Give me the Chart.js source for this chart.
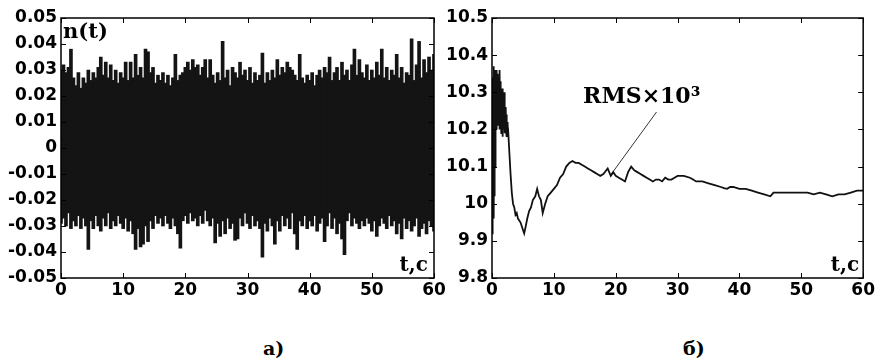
<!DOCTYPE html>
<html>
<head>
<meta charset="utf-8">
<script src="https://cdn.jsdelivr.net/npm/chart.js"></script>
<style>
html, body { margin: 0; padding: 0; background: #fff; }
#wrap { position: relative; width: 877px; height: 363px; overflow: hidden; }
canvas { position: absolute; top: 0; }
.cap { position: absolute; top: 337px; font: bold 19px "DejaVu Serif"; color: #000; }
</style>
</head>
<body>
<div id="wrap">
  <canvas id="noiseChart" width="460" height="300" style="left:0"></canvas>
  <canvas id="rmsChart" width="437" height="300" style="left:440px"></canvas>
  <div class="cap" style="left:263px">а)</div>
  <div class="cap" style="left:683px">б)</div>
</div>
<script>
// noise n(t): peak-to-peak envelope read every 0.4 s
var noiseStep = 0.4;
var noiseHigh = [
  0.030, 0.032, 0.029, 0.031, 0.038, 0.027, 0.024, 0.029, 0.023, 0.027,
  0.025, 0.030, 0.026, 0.029, 0.027, 0.031, 0.035, 0.028, 0.033, 0.027,
  0.032, 0.026, 0.030, 0.025, 0.029, 0.027, 0.033, 0.026, 0.033, 0.027,
  0.036, 0.028, 0.031, 0.027, 0.038, 0.037, 0.029, 0.031, 0.025, 0.028,
  0.026, 0.029, 0.025, 0.028, 0.024, 0.027, 0.036, 0.026, 0.028, 0.029,
  0.031, 0.033, 0.030, 0.034, 0.031, 0.032, 0.028, 0.031, 0.034, 0.027,
  0.034, 0.028, 0.025, 0.029, 0.026, 0.041, 0.027, 0.030, 0.024, 0.031,
  0.029, 0.027, 0.033, 0.028, 0.030, 0.026, 0.031, 0.025, 0.029, 0.026,
  0.028, 0.0365, 0.025, 0.029, 0.026, 0.030, 0.027, 0.034, 0.028, 0.031,
  0.029, 0.033, 0.031, 0.030, 0.028, 0.026, 0.036, 0.027, 0.025, 0.028,
  0.026, 0.029, 0.024, 0.028, 0.030, 0.027, 0.031, 0.029, 0.035, 0.026,
  0.029, 0.031, 0.026, 0.033, 0.028, 0.030, 0.026, 0.032, 0.038, 0.028,
  0.034, 0.029, 0.027, 0.032, 0.026, 0.030, 0.027, 0.033, 0.028, 0.038,
  0.027, 0.031, 0.026, 0.030, 0.028, 0.036, 0.027, 0.031, 0.025, 0.029,
  0.028, 0.042, 0.026, 0.032, 0.041, 0.027, 0.034, 0.029, 0.035, 0.030, 0.036
];
var noiseLow = [
  -0.029, -0.027, -0.030, -0.025, -0.031, -0.028, -0.030, -0.026, -0.031, -0.027,
  -0.030, -0.039, -0.028, -0.031, -0.026, -0.030, -0.032, -0.027, -0.030, -0.025,
  -0.031, -0.028, -0.030, -0.026, -0.029, -0.031, -0.027, -0.032, -0.028, -0.033,
  -0.039, -0.031, -0.038, -0.037, -0.030, -0.036, -0.028, -0.031, -0.026, -0.029,
  -0.027, -0.030, -0.026, -0.029, -0.031, -0.027, -0.030, -0.033, -0.0385, -0.028,
  -0.026, -0.029, -0.025, -0.028, -0.027, -0.030, -0.026, -0.029, -0.024, -0.028,
  -0.030, -0.027, -0.0365, -0.029, -0.034, -0.028, -0.033, -0.027, -0.031, -0.029,
  -0.0355, -0.035, -0.027, -0.030, -0.025, -0.029, -0.031, -0.026, -0.030, -0.028,
  -0.031, -0.042, -0.029, -0.032, -0.027, -0.030, -0.037, -0.028, -0.032, -0.026,
  -0.030, -0.027, -0.031, -0.025, -0.033, -0.039, -0.028, -0.030, -0.026, -0.031,
  -0.028, -0.030, -0.026, -0.032, -0.029, -0.027, -0.036, -0.030, -0.025, -0.031,
  -0.027, -0.033, -0.029, -0.035, -0.041, -0.028, -0.025, -0.030, -0.027, -0.029,
  -0.031, -0.028, -0.030, -0.027, -0.029, -0.032, -0.028, -0.034, -0.030, -0.027,
  -0.029, -0.031, -0.026, -0.030, -0.028, -0.033, -0.029, -0.035, -0.027, -0.031,
  -0.028, -0.032, -0.030, -0.027, -0.034, -0.031, -0.029, -0.033, -0.028, -0.030, -0.032
];

// running RMS x 10^3
var rmsTime = [
  0, 0.05, 0.1, 0.15, 0.2, 0.25, 0.3, 0.35, 0.4, 0.45,
  0.5, 0.55, 0.6, 0.65, 0.7, 0.75, 0.8, 0.85, 0.9, 0.95,
  1.0, 1.05, 1.1, 1.15, 1.2, 1.25, 1.3, 1.35, 1.4, 1.45,
  1.5, 1.55, 1.6, 1.65, 1.7, 1.75, 1.8, 1.85, 1.9, 1.95,
  2.0, 2.05, 2.1, 2.15, 2.2, 2.25, 2.3, 2.35, 2.4, 2.45,
  2.5, 2.55, 2.6, 2.8, 3.0, 3.2, 3.4, 3.6, 3.8, 4.0,
  4.2, 4.4, 4.6, 4.8, 5.0, 5.2, 5.4, 5.7, 6.0, 6.3,
  6.6, 7.0, 7.3, 7.6, 7.9, 8.2, 8.6, 9.0, 9.5, 10,
  10.5, 11, 11.5, 12, 12.5, 13, 13.5, 14, 14.5, 15,
  15.5, 16, 16.5, 17, 17.5, 18, 18.7, 19.2, 19.6, 20,
  20.5, 21, 21.5, 22, 22.5, 23, 23.5, 24, 24.5, 25,
  25.5, 26, 26.5, 27, 27.5, 28, 28.5, 29, 29.5, 30,
  31, 32, 32.5, 33, 34, 35, 36, 37, 37.5, 38,
  38.5, 39, 40, 41, 42, 43, 44, 45, 45.5, 46,
  47, 48, 49, 50, 51, 52, 53, 54, 55, 56,
  57, 58, 59, 60
];
var rmsValue = [
  9.92, 10.20, 10.05, 10.34, 9.97, 10.37, 9.96, 10.30, 10.02, 10.36,
  10.10, 10.35, 10.22, 10.36, 10.20, 10.33, 10.24, 10.35, 10.21, 10.32,
  10.25, 10.34, 10.22, 10.30, 10.20, 10.36, 10.23, 10.33, 10.21, 10.32,
  10.19, 10.31, 10.20, 10.30, 10.18, 10.31, 10.22, 10.29, 10.20, 10.30,
  10.21, 10.27, 10.19, 10.26, 10.20, 10.25, 10.19, 10.24, 10.18, 10.22,
  10.19, 10.21, 10.20, 10.14, 10.08, 10.03, 10.00, 9.99, 9.97, 9.975,
  9.96, 9.955, 9.95, 9.94, 9.93, 9.92, 9.935, 9.96, 9.98, 9.99,
  10.01, 10.02, 10.04, 10.02, 10.01, 9.975, 10.00, 10.02, 10.03, 10.04,
  10.05, 10.07, 10.08, 10.10, 10.11, 10.115, 10.11, 10.11, 10.105, 10.10,
  10.095, 10.09, 10.085, 10.08, 10.075, 10.08, 10.095, 10.075, 10.085, 10.075,
  10.07, 10.065, 10.06, 10.085, 10.10, 10.09, 10.085, 10.08, 10.075, 10.07,
  10.065, 10.06, 10.065, 10.065, 10.06, 10.07, 10.065, 10.065, 10.07, 10.075,
  10.075, 10.07, 10.065, 10.06, 10.06, 10.055, 10.05, 10.045, 10.042, 10.04,
  10.045, 10.045, 10.04, 10.04, 10.035, 10.03, 10.025, 10.02, 10.03, 10.03,
  10.03, 10.03, 10.03, 10.03, 10.03, 10.025, 10.03, 10.025, 10.02, 10.025,
  10.025, 10.03, 10.035, 10.035
];

var tickFont = { family: "DejaVu Sans", weight: "bold", size: 17 };

// boxed frame with inward ticks on all four sides, plus axis names
var framePlugin = {
  id: "frame",
  afterDraw: function(chart, args, opts) {
    var ctx = chart.ctx, a = chart.chartArea;
    var xs = chart.scales.x, ys = chart.scales.y;
    ctx.save();
    ctx.strokeStyle = "#000";
    ctx.lineWidth = 1.5;
    ctx.strokeRect(a.left, a.top, a.right - a.left, a.bottom - a.top);
    ctx.lineWidth = 1;
    ctx.beginPath();
    xs.ticks.forEach(function(t) {
      var px = Math.round(xs.getPixelForValue(t.value)) + 0.5;
      ctx.moveTo(px, a.bottom); ctx.lineTo(px, a.bottom - 5);
      ctx.moveTo(px, a.top); ctx.lineTo(px, a.top + 5);
    });
    ys.ticks.forEach(function(t) {
      var py = Math.round(ys.getPixelForValue(t.value)) + 0.5;
      ctx.moveTo(a.left, py); ctx.lineTo(a.left + 5, py);
      ctx.moveTo(a.right, py); ctx.lineTo(a.right - 5, py);
    });
    ctx.stroke();
    ctx.fillStyle = "#000";
    ctx.textBaseline = "middle";
    if (opts.yName) {
      ctx.font = 'bold 21px "DejaVu Serif"';
      ctx.textAlign = "left";
      ctx.fillText(opts.yName, a.left + 2, a.top + 15);
    }
    if (opts.xName) {
      ctx.font = 'bold 20px "DejaVu Serif"';
      ctx.textAlign = "right";
      ctx.fillText(opts.xName, a.right - opts.xNameGap, a.bottom - 12);
    }
    ctx.restore();
  }
};

// "RMS×10³" label with a leader line to the curve
var rmsLabel = {
  id: "rmsLabel",
  afterDraw: function(chart) {
    var ctx = chart.ctx, xs = chart.scales.x, ys = chart.scales.y;
    ctx.save();
    ctx.strokeStyle = "#000";
    ctx.lineWidth = 0.8;
    ctx.beginPath();
    ctx.moveTo(xs.getPixelForValue(26.6), ys.getPixelForValue(10.247));
    ctx.lineTo(xs.getPixelForValue(19.3), ys.getPixelForValue(10.08));
    ctx.stroke();
    ctx.fillStyle = "#000";
    ctx.font = 'bold 22px "DejaVu Serif"';
    ctx.textAlign = "center";
    ctx.textBaseline = "middle";
    ctx.fillText("RMS×10³", xs.getPixelForValue(24.2), ys.getPixelForValue(10.287));
    ctx.restore();
  }
};

function axes(yMin, yMax, yStep, yDigits, yWidth) {
  return {
    x: {
      type: "linear", min: 0, max: 60, offset: false,
      grid: { display: false, drawTicks: false },
      border: { display: false },
      ticks: { stepSize: 10, color: "#000", font: tickFont, padding: 2, maxRotation: 0 },
      afterFit: function(s) { s.height = 22; }
    },
    y: {
      min: yMin, max: yMax,
      grid: { display: false, drawTicks: false },
      border: { display: false },
      ticks: {
        stepSize: yStep, color: "#000", font: tickFont, padding: 4,
        callback: function(v) { return String(Math.round(v * yDigits) / yDigits); }
      },
      afterFit: function(s) { s.width = yWidth; }
    }
  };
}

var noisePoints = noiseHigh.map(function(h, i) {
  return { x: i * noiseStep, y: [noiseLow[i], h] };
});

new Chart(document.getElementById("noiseChart"), {
  type: "bar",
  data: {
    datasets: [{
      data: noisePoints,
      backgroundColor: "#141414",
      borderWidth: 0,
      barThickness: 3
    }]
  },
  options: {
    responsive: false,
    animation: false,
    events: [],
    layout: { padding: { top: 18, right: 26, bottom: 0, left: 0 } },
    plugins: {
      legend: { display: false },
      tooltip: { enabled: false },
      frame: { yName: "n(t)", xName: "t,c", xNameGap: 6 }
    },
    scales: axes(-0.05, 0.05, 0.01, 100, 61)
  },
  plugins: [framePlugin]
});

var rmsPoints = rmsTime.map(function(t, i) {
  return { x: t, y: rmsValue[i] };
});

new Chart(document.getElementById("rmsChart"), {
  type: "line",
  data: {
    datasets: [{
      data: rmsPoints,
      borderColor: "#111",
      borderWidth: 1.8,
      pointRadius: 0,
      tension: 0,
      fill: false
    }]
  },
  options: {
    responsive: false,
    animation: false,
    events: [],
    layout: { padding: { top: 18, right: 11, bottom: 0, left: 0 } },
    plugins: {
      legend: { display: false },
      tooltip: { enabled: false },
      frame: { xName: "t,c", xNameGap: 4 }
    },
    scales: axes(9.8, 10.5, 0.1, 10, 52)
  },
  plugins: [framePlugin, rmsLabel]
});
</script>
</body>
</html>
